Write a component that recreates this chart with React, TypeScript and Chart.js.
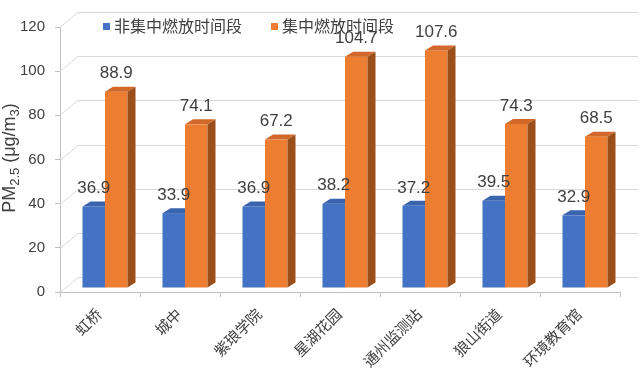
import React, { useEffect, useRef } from 'react';
import { Chart, registerables } from 'chart.js';

Chart.register(...registerables);

const categories = ['虹桥', '城中', '紫琅学院', '星湖花园', '通州监测站', '狼山街道', '环境教育馆'];
const seriesNames = ['非集中燃放时间段', '集中燃放时间段'];
const nonConcentrated = [36.9, 33.9, 36.9, 38.2, 37.2, 39.5, 32.9];
const concentrated = [88.9, 74.1, 67.2, 104.7, 107.6, 74.3, 68.5];
const yTicks = [0, 20, 40, 60, 80, 100, 120];

const FONT = "'Liberation Sans', 'Noto Sans CJK SC', Arial, sans-serif";
const TEXT = '#404040';
const WALL_DX = 18;
const WALL_DY = -15;
const BAR_OX = 5;
const BAR_OY = -4;
const DEPTH_X = 8;
const DEPTH_Y = -5;

const palette = [
  { front: '#4472C4', top: '#3A64AE', side: '#2E4F8A' },
  { front: '#ED7D31', top: '#D2692A', side: '#9C4E1A' },
];

const threeD = {
  id: 'threeD',
  beforeDatasetsDraw(chart: any) {
    const { ctx, chartArea, scales } = chart;
    const y = scales.y;
    ctx.save();
    ctx.strokeStyle = '#d9d9d9';
    ctx.lineWidth = 1;
    yTicks.forEach((v) => {
      const py = Math.round(y.getPixelForValue(v)) + 0.5;
      ctx.beginPath();
      ctx.moveTo(chartArea.left, py);
      ctx.lineTo(chartArea.left + WALL_DX, py + WALL_DY);
      ctx.lineTo(chartArea.right + WALL_DX, py + WALL_DY);
      ctx.stroke();
    });
    ctx.restore();
  },
  afterDatasetsDraw(chart: any) {
    const { ctx } = chart;
    ctx.save();
    ctx.translate(BAR_OX, BAR_OY);
    [0, 1].forEach((di) => {
      const meta = chart.getDatasetMeta(di);
      const col = palette[di];
      meta.data.forEach((bar: any) => {
        const { x, y, width, base } = bar.getProps(['x', 'y', 'width', 'base'], true);
        const l = x - width / 2;
        const r = x + width / 2;
        ctx.fillStyle = col.front;
        ctx.fillRect(l, y, width, base - y);
        ctx.fillStyle = col.top;
        ctx.beginPath();
        ctx.moveTo(l, y);
        ctx.lineTo(r, y);
        ctx.lineTo(r + DEPTH_X, y + DEPTH_Y);
        ctx.lineTo(l + DEPTH_X, y + DEPTH_Y);
        ctx.closePath();
        ctx.fill();
        ctx.fillStyle = col.side;
        ctx.beginPath();
        ctx.moveTo(r, y);
        ctx.lineTo(r + DEPTH_X, y + DEPTH_Y);
        ctx.lineTo(r + DEPTH_X, base + DEPTH_Y);
        ctx.lineTo(r, base);
        ctx.closePath();
        ctx.fill();
      });
    });
    // value labels
    ctx.fillStyle = TEXT;
    ctx.font = `17px ${FONT}`;
    ctx.textAlign = 'center';
    ctx.textBaseline = 'middle';
    [0, 1].forEach((di) => {
      const meta = chart.getDatasetMeta(di);
      const vals = chart.data.datasets[di].data;
      meta.data.forEach((bar: any, i: number) => {
        const { x, y } = bar.getProps(['x', 'y'], true);
        ctx.fillText(String(vals[i]), x, y - 18);
      });
    });
    ctx.restore();
  },
  afterDraw(chart: any) {
    const { ctx } = chart;
    ctx.save();
    // legend
    const items = [
      { sx: 103, tx: 114, color: palette[0].front, label: seriesNames[0] },
      { sx: 271, tx: 282, color: palette[1].front, label: seriesNames[1] },
    ];
    ctx.font = `16px ${FONT}`;
    ctx.textBaseline = 'middle';
    ctx.textAlign = 'left';
    items.forEach((it) => {
      ctx.fillStyle = it.color;
      ctx.fillRect(it.sx, 23, 7, 7);
      ctx.fillStyle = TEXT;
      ctx.fillText(it.label, it.tx, 27.5);
    });
    // y axis title with subscripts
    const parts = [
      { t: 'PM', size: 18, dy: 0 },
      { t: '2.5', size: 13, dy: 4 },
      { t: ' (μg/m', size: 18, dy: 0 },
      { t: '3', size: 13, dy: 4 },
      { t: ')', size: 18, dy: 0 },
    ];
    let total = 0;
    parts.forEach((p) => {
      ctx.font = `${p.size}px ${FONT}`;
      total += ctx.measureText(p.t).width;
    });
    ctx.translate(15, 158);
    ctx.rotate(-Math.PI / 2);
    ctx.textBaseline = 'alphabetic';
    ctx.textAlign = 'left';
    ctx.fillStyle = TEXT;
    let u = -total / 2;
    parts.forEach((p) => {
      ctx.font = `${p.size}px ${FONT}`;
      ctx.fillText(p.t, u, p.dy);
      u += ctx.measureText(p.t).width;
    });
    ctx.restore();
  },
};

export default function App() {
  const ref = useRef<HTMLCanvasElement | null>(null);
  useEffect(() => {
    document.body.style.margin = '0';
    const canvas = ref.current;
    if (!canvas) return;
    const chart = new Chart(canvas, {
      type: 'bar',
      data: {
        labels: categories,
        datasets: [
          {
            label: seriesNames[0],
            data: nonConcentrated,
            backgroundColor: 'rgba(0,0,0,0)',
            borderWidth: 0,
            categoryPercentage: 0.5625,
            barPercentage: 1,
          },
          {
            label: seriesNames[1],
            data: concentrated,
            backgroundColor: 'rgba(0,0,0,0)',
            borderWidth: 0,
            categoryPercentage: 0.5625,
            barPercentage: 1,
          },
        ],
      },
      options: {
        responsive: false,
        animation: false,
        devicePixelRatio: 1,
        layout: { padding: { left: 0, right: 23, top: 27, bottom: 0 } },
        plugins: {
          legend: { display: false },
          tooltip: { enabled: false },
        },
        scales: {
          x: {
            grid: {
              display: true,
              drawOnChartArea: false,
              drawTicks: true,
              tickLength: 5,
              color: '#bfbfbf',
              offset: true,
            },
            border: { display: true, color: '#bfbfbf' },
            ticks: {
              color: TEXT,
              font: { family: FONT, size: 15 },
              maxRotation: 45,
              minRotation: 45,
              padding: 9,
              autoSkip: false,
            },
            afterFit: (s: any) => {
              s.height = 89;
            },
          },
          y: {
            min: 0,
            max: 120,
            ticks: {
              stepSize: 20,
              color: TEXT,
              font: { family: FONT, size: 15 },
              padding: 10,
            },
            grid: {
              display: true,
              drawOnChartArea: false,
              drawTicks: true,
              tickLength: 5,
              color: '#bfbfbf',
            },
            border: { display: true, color: '#bfbfbf' },
            afterFit: (s: any) => {
              s.width = 60;
            },
          },
        },
      },
      plugins: [threeD],
    });
    return () => chart.destroy();
  }, []);
  return (
    <div style={{ position: 'fixed', left: 0, top: 0, width: 643, height: 381, background: '#fff' }}>
      <canvas ref={ref} width={643} height={381} style={{ display: 'block' }} />
    </div>
  );
}
